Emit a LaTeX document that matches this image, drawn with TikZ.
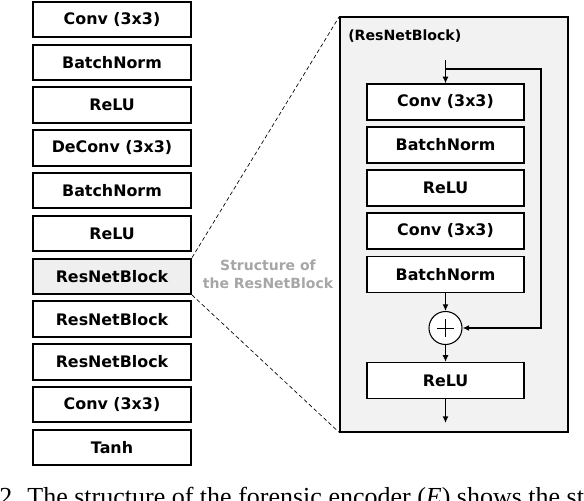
\documentclass[tikz,border=0pt]{standalone}
\usepackage{fontspec}
\setmainfont{Liberation Serif}
\newfontfamily\boxfont{DejaVu Sans}
\usetikzlibrary{arrows.meta}
\definecolor{panelgray}{HTML}{F2F2F2}
\definecolor{blockgray}{HTML}{EFEFEF}
\definecolor{notegray}{HTML}{A6A6A6}
\tikzset{
  layer/.style={draw, line width=1.5pt, fill=white, minimum width=118.5pt, minimum height=26.5pt, inner sep=0pt, font=\boxfont\bfseries\fontsize{11.9}{14}\selectfont},
  sublayer/.style={layer, line width=0.9pt, minimum width=117.75pt, minimum height=27pt},
  flow/.style={line width=1pt, -{Latex[length=5pt,width=4.5pt]}},
}
\begin{document}
\begin{tikzpicture}[x=0.75pt, y=-0.75pt]
		\useasboundingbox (0,0) rectangle (584,500);
		\clip (0,0) rectangle (584,500);
		% generator stack
		\node[layer] (l1) at (112,19.5) {Conv (3x3)};
		\node[layer] (l2) at (112,62.3) {BatchNorm};
		\node[layer] (l3) at (112,105.1) {ReLU};
		\node[layer] (l4) at (112,147.9) {DeConv (3x3)};
		\node[layer] (l5) at (112,190.7) {BatchNorm};
		\node[layer] (l6) at (112,233.5) {ReLU};
		\node[layer, fill=blockgray] (rb1) at (112,276.3) {ResNetBlock};
		\node[layer] (rb2) at (112,319.1) {ResNetBlock};
		\node[layer] (rb3) at (112,361.9) {ResNetBlock};
		\node[layer] (l10) at (112,404.7) {Conv (3x3)};
		\node[layer] (l11) at (112,447.5) {Tanh};
		% zoomed block
		\node[draw, line width=0.9pt, fill=panelgray, minimum width=171pt, minimum height=311.25pt] (panel) at (454,224.5) {};
		\draw[densely dashed, line width=0.5pt] (rb1.north east) -- (panel.north west);
		\draw[densely dashed, line width=0.5pt] (rb1.south east) -- (panel.south west);
		\node[anchor=west, inner sep=0pt, font=\boxfont\bfseries\fontsize{10.6}{13}\selectfont] (title) at (348,36) {(ResNetBlock)};
		\node[align=center, text=notegray, inner sep=0pt, font=\boxfont\bfseries\fontsize{10.5}{13.5}\selectfont] (note) at (268,274) {Structure of\\the ResNetBlock};
		\node[sublayer] (c1) at (445.5,102) {Conv (3x3)};
		\node[sublayer] (c2) at (445.5,145) {BatchNorm};
		\node[sublayer] (c3) at (445.5,188) {ReLU};
		\node[sublayer] (c4) at (445.5,231) {Conv (3x3)};
		\node[sublayer] (c5) at (445.5,274.5) {BatchNorm};
		\node[draw, circle, line width=0.8pt, fill=white, minimum size=24.75pt, inner sep=0pt,
		      path picture={\draw[line width=0.5pt] ([xshift=-6.5pt]path picture bounding box.center) -- ([xshift=6.5pt]path picture bounding box.center);
		                    \draw[line width=0.5pt] ([yshift=-6.5pt]path picture bounding box.center) -- ([yshift=6.5pt]path picture bounding box.center);}] (add) at (445.5,328) {};
		\node[sublayer] (c6) at (445.5,380.5) {ReLU};
		\coordinate (in) at (445.5,60);
		\coordinate (split) at (445.5,69);
		\coordinate (out) at (445.5,423);
		\draw[flow] (in) -- (c1);
		\draw[flow] (split) -- (541,69) -- (541,328) -- (add);
		\draw[flow] (c5) -- (add);
		\draw[flow] (add) -- (c6);
		\draw[flow] (c6) -- (out);
		% caption (cut off at the bottom)
		\node[anchor=base west, inner sep=0pt, font=\fontsize{19.5}{22}\selectfont] (caption) at (-1,505) {2. The structure of the forensic encoder (\textit{E}) shows the st};
\end{tikzpicture}
\end{document}
